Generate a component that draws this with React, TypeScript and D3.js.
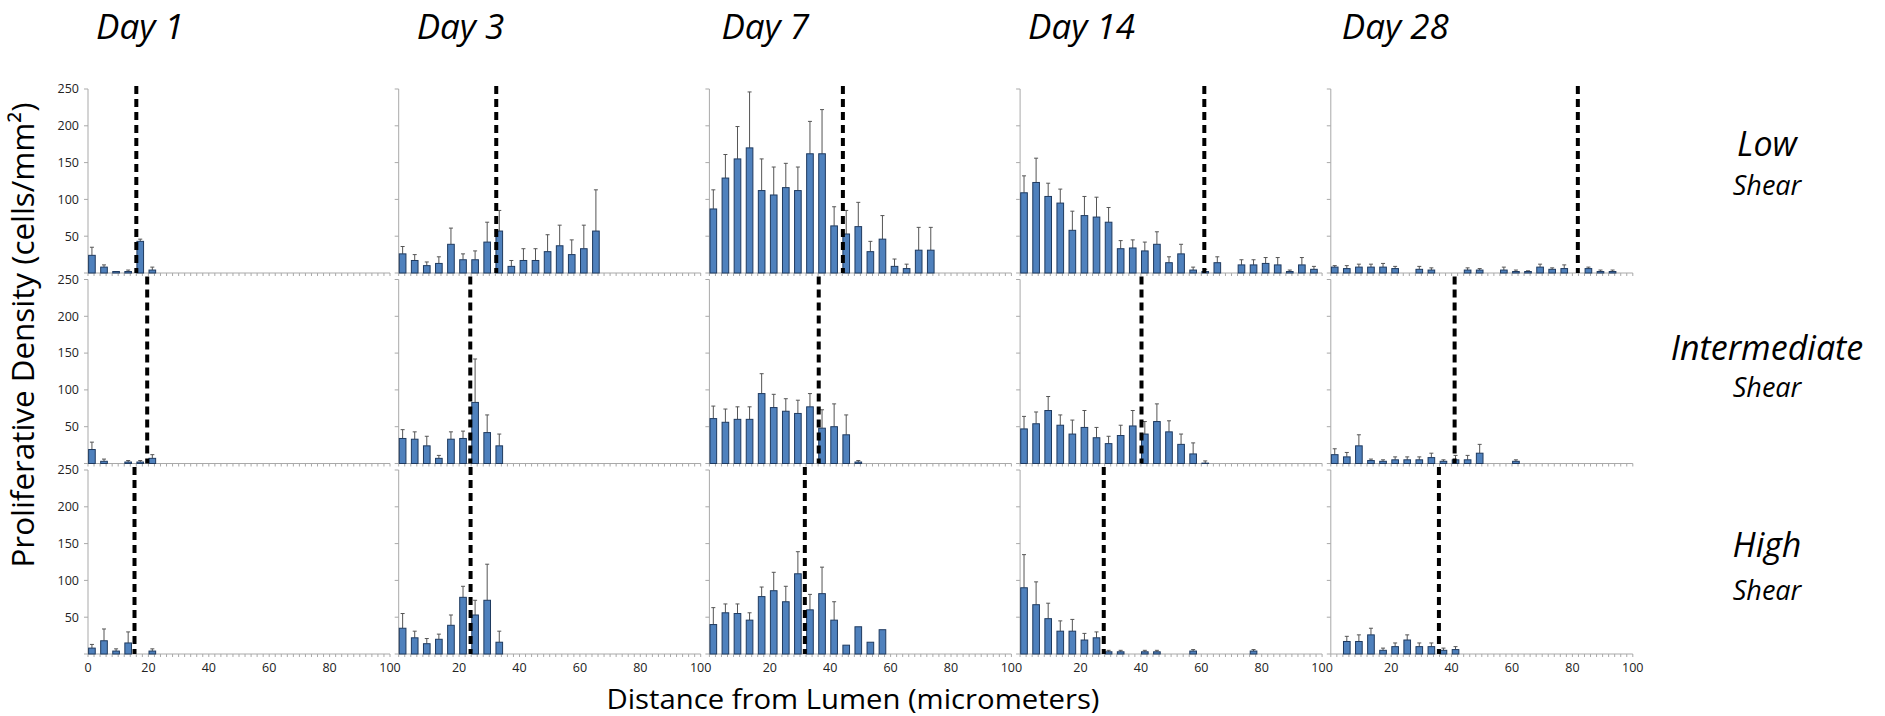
import * as d3 from "d3";

// 4 µm bins, value = mean proliferative density, sd = upper error bar
const days = ["Day 1", "Day 3", "Day 7", "Day 14", "Day 28"];
const shears = ["Low", "Intermediate", "High"];
const bins = d3.range(0, 100, 4);
const yTicks = [0, 50, 100, 150, 200, 250];
const yLabels = [50, 100, 150, 200, 250];
const xLabels = [0, 20, 40, 60, 80, 100];

const day1Low = [24, 8, 2, 2, 43, 4];
const day1LowSd = [11, 3, 0, 2, 3, 4];
const day1Int = [19, 3, null, 2, 2, 7];
const day1IntSd = [10, 3, 0, 2, 2, 5];
const day1High = [8, 18, 4, 15, null, 4];
const day1HighSd = [5, 16, 3, 15, 0, 3];

const day3Low = [26, 17, 10, 13, 39, 18, 18, 42, 57, 9, 17, 17, 29, 37, 25, 33, 57];
const day3LowSd = [10, 8, 5, 9, 22, 8, 12, 27, 28, 8, 16, 16, 23, 28, 20, 32, 56];
const day3Int = [34, 33, 24, 7, 33, 34, 83, 42, 24];
const day3IntSd = [12, 10, 13, 4, 10, 10, 59, 24, 16];
const day3High = [35, 22, 14, 20, 39, 77, 53, 73, 16];
const day3HighSd = [20, 9, 7, 7, 14, 15, 20, 49, 15];

const day7Low = [87, 129, 155, 170, 112, 106, 116, 112, 162, 162, 64, 53, 63, 29, 46, 9, 6, 31, 31];
const day7LowSd = [26, 32, 44, 76, 43, 38, 33, 32, 44, 60, 26, 32, 33, 14, 32, 10, 6, 31, 31];
const day7Int = [61, 56, 60, 60, 95, 76, 71, 68, 77, 48, 50, 39, 2];
const day7IntSd = [17, 18, 17, 17, 27, 18, 17, 18, 18, 25, 31, 27, 2];
const day7High = [40, 56, 55, 46, 78, 86, 71, 109, 60, 82, 46, 12, 37, 16, 33];
const day7HighSd = [23, 12, 13, 10, 13, 25, 21, 30, 21, 36, 25, 0, 0, 0, 0];

const day14Low = [109, 123, 104, 95, 58, 78, 76, 69, 33, 34, 30, 39, 14, 26, 4, 2, 14, null, 11, 11, 13, 11, 2, 11, 5];
const day14LowSd = [23, 33, 18, 19, 26, 26, 27, 20, 11, 11, 12, 17, 8, 13, 4, 3, 8, 0, 7, 7, 8, 10, 2, 10, 4];
const day14Int = [47, 54, 72, 52, 40, 49, 35, 27, 38, 51, 40, 57, 43, 26, 13, 0.5];
const day14IntSd = [17, 16, 19, 14, 19, 23, 14, 10, 14, 21, 17, 24, 15, 14, 15, 3];
const day14High = [90, 67, 48, 31, 31, 19, 22, 3, 3, null, 3, 3, null, null, 4, null, null, null, null, 4];
const day14HighSd = [45, 31, 21, 14, 16, 9, 8, 2, 2, 0, 2, 2, 0, 0, 2, 0, 0, 0, 0, 2];

const day28Low = [8, 6, 8, 8, 8, 6, null, 5, 4, null, null, 4, 4, null, 4, 2, 2, 8, 5, 6, null, 6, 2, 2];
const day28LowSd = [2, 4, 4, 4, 5, 3, 0, 4, 3, 0, 0, 3, 2, 0, 4, 2, 1, 4, 2, 5, 0, 2, 2, 2];
const day28Int = [12, 9, 24, 4, 3, 5, 5, 5, 8, 3, 5, 5, 14, null, null, 3];
const day28IntSd = [8, 6, 15, 2, 2, 4, 4, 4, 6, 2, 6, 6, 12, 0, 0, 2];
const day28High = [null, 17, 17, 26, 5, 10, 19, 10, 10, 5, 6];
const day28HighSd = [0, 7, 9, 9, 3, 5, 7, 5, 5, 3, 4];

// lumen boundary (dashed line) per day, micrometers
const boundaryLow = [16, 32.3, 44.2, 61, 81.8];
const boundaryInt = [19.6, 23.7, 36.2, 40.2, 41];
const boundaryHigh = [15.4, 23.8, 31.6, 27.7, 35.8];

const means = [
  [day1Low, day3Low, day7Low, day14Low, day28Low],
  [day1Int, day3Int, day7Int, day14Int, day28Int],
  [day1High, day3High, day7High, day14High, day28High],
];
const sds = [
  [day1LowSd, day3LowSd, day7LowSd, day14LowSd, day28LowSd],
  [day1IntSd, day3IntSd, day7IntSd, day14IntSd, day28IntSd],
  [day1HighSd, day3HighSd, day7HighSd, day14HighSd, day28HighSd],
];
const boundaries = [boundaryLow, boundaryInt, boundaryHigh];

const W = 1885;
const H = 716;
const colLeft = 88;
const colPitch = 310.7;
const plotW = 302;
const rowTop = 89;
const rowPitch = 190.5;
const plotH = 184;
const font = "'Open Sans', sans-serif";
const titleDx = [8, 18, 12, 8, 11];
const shearY = [
  [156, 195],
  [360, 397],
  [557, 600],
];

const x = d3.scaleLinear().domain([0, 100]).range([0, plotW]);
const y = d3.scaleLinear().domain([0, 250]).range([plotH, 0]);
const barW = x(2.2) - x(0);

function Panel({ row, col }: { row: number; col: number }) {
  const vals = means[row][col];
  const err = sds[row][col];
  const bx = x(boundaries[row][col]);
  // the "0" of later panels sits under the previous panel's "100"
  const labels = col === 0 ? xLabels : xLabels.filter((t) => t !== 0);
  return (
    <g transform={`translate(${colLeft + col * colPitch},${rowTop + row * rowPitch})`}>
      <line x1={0} x2={0} y1={y(250)} y2={y(0)} stroke="#a9a9a9" />
      {yTicks.map((t) => (
        <line key={t} x1={-4} x2={0} y1={y(t)} y2={y(t)} stroke="#a9a9a9" />
      ))}
      {col === 0 &&
        yLabels.map((t) => (
          <text key={t} x={-9} y={y(t)} dy="0.35em" textAnchor="end" fontSize={12.5} fontFamily={font} fill="#222">
            {t}
          </text>
        ))}
      <line x1={0} x2={plotW} y1={plotH} y2={plotH} stroke="#a9a9a9" />
      {d3.range(0, 101, 2).map((t) => (
        <line key={t} x1={x(t)} x2={x(t)} y1={plotH} y2={plotH + 3} stroke="#a9a9a9" />
      ))}
      {row === 2 &&
        labels.map((t) => (
          <text key={t} x={x(t)} y={plotH + 18} textAnchor="middle" fontSize={12.5} fontFamily={font} fill="#222">
            {t}
          </text>
        ))}
      {vals.map((v, i) => {
        if (v === null) return null;
        const cx = x(bins[i] + 1.3);
        const top = y(v + (err[i] || 0));
        return (
          <g key={i}>
            {err[i] > 0 && (
              <g stroke="#555" strokeWidth={1}>
                <line x1={cx} x2={cx} y1={y(v)} y2={top} />
                <line x1={cx - 2} x2={cx + 2} y1={top} y2={top} />
              </g>
            )}
            <rect
              x={cx - barW / 2}
              y={y(v)}
              width={barW}
              height={y(0) - y(v)}
              fill="#4f81bd"
              stroke="#1f3a5f"
              strokeWidth={1}
            />
          </g>
        );
      })}
      <line x1={bx} x2={bx} y1={-3} y2={plotH} stroke="#000" strokeWidth={4} strokeDasharray="8,5" />
    </g>
  );
}

export default function App() {
  return (
    <svg width={W} height={H} style={{ position: "absolute", left: 0, top: 0, background: "#fff" }}>
      {days.map((d, c) => (
        <text
          key={d}
          x={colLeft + c * colPitch + titleDx[c]}
          y={39}
          fontSize={35}
          fontStyle="italic"
          fontFamily={font}
          fill="#000"
        >
          {d}
        </text>
      ))}
      {shears.map((s, r) => (
        <g key={s} fontFamily={font} fontStyle="italic" fill="#000" textAnchor="middle">
          <text x={1767} y={shearY[r][0]} fontSize={34}>
            {s}
          </text>
          <text x={1767} y={shearY[r][1]} fontSize={27}>
            Shear
          </text>
        </g>
      ))}
      {shears.map((s, r) => days.map((d, c) => <Panel key={`${r}-${c}`} row={r} col={c} />))}
      <text
        transform="translate(34,335) rotate(-90)"
        textAnchor="middle"
        fontSize={31}
        fontFamily={font}
        fill="#000"
        textLength={465}
        lengthAdjust="spacingAndGlyphs"
      >
        Proliferative Density (cells/mm²)
      </text>
      <text
        x={853}
        y={709}
        textAnchor="middle"
        fontSize={28}
        fontFamily={font}
        fill="#000"
        textLength={493}
        lengthAdjust="spacingAndGlyphs"
      >
        Distance from Lumen (micrometers)
      </text>
    </svg>
  );
}
